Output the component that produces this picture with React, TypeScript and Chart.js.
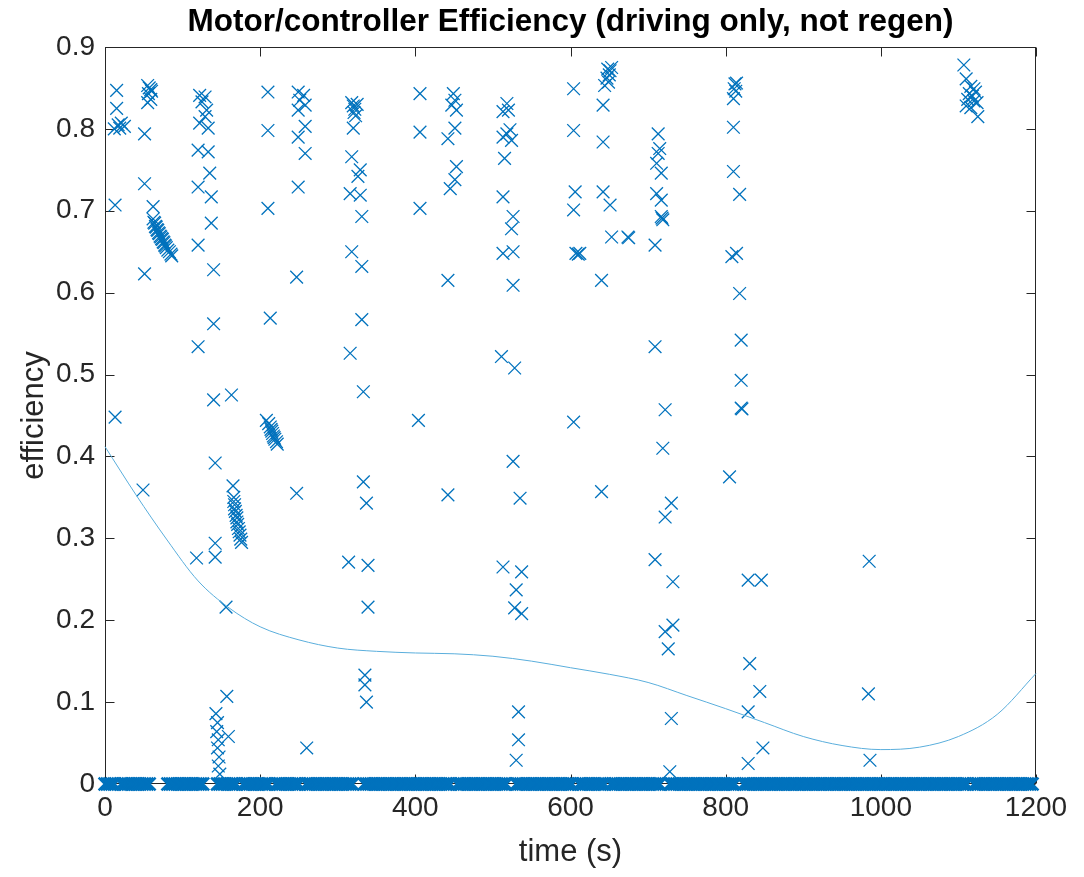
import { useEffect, useRef } from 'react';
import { Chart, registerables } from 'chart.js';

Chart.register(...registerables);

const chartTitle = 'Motor/controller Efficiency (driving only, not regen)';
const xAxisTitle = 'time (s)';
const yAxisTitle = 'efficiency';

const xTickValues = [0, 200, 400, 600, 800, 1000, 1200];
const xTickLabels = ['0', '200', '400', '600', '800', '1000', '1200'];
const yTickValues = [0, 0.1, 0.2, 0.3, 0.4, 0.5, 0.6, 0.7, 0.8, 0.9];
const yTickLabels = ['0', '0.1', '0.2', '0.3', '0.4', '0.5', '0.6', '0.7', '0.8', '0.9'];

// [time (s), efficiency] for samples with non-zero efficiency
const efficiencyPoints: [number, number][] = [
  [15, 0.847], [15, 0.825], [12, 0.8], [17, 0.805], [21, 0.807], [25, 0.803], [19, 0.801], [13, 0.707], [13, 0.448],
  [51, 0.794], [51, 0.733], [51, 0.623], [49, 0.359], [55, 0.853], [57, 0.85], [59, 0.848], [56, 0.843], [60, 0.846],
  [55, 0.832], [59, 0.836], [62, 0.705],
  [62, 0.69], [63, 0.686], [64, 0.685], [65, 0.681], [66, 0.68], [67, 0.677], [68, 0.676], [69, 0.673], [70, 0.672],
  [71, 0.669], [72, 0.668], [73, 0.666], [74, 0.665], [75, 0.662], [76, 0.661], [77, 0.658], [78, 0.657], [79, 0.655],
  [81, 0.652], [83, 0.65], [85, 0.647], [86, 0.645],
  [122, 0.841], [129, 0.839], [125, 0.833], [131, 0.823], [129, 0.815], [122, 0.807], [133, 0.801], [120, 0.774],
  [133, 0.772], [135, 0.746], [120, 0.729], [137, 0.717], [137, 0.685], [120, 0.658], [140, 0.628], [140, 0.562],
  [120, 0.534], [140, 0.469], [163, 0.475], [142, 0.392], [142, 0.294], [142, 0.277], [118, 0.276], [156, 0.216],
  [157, 0.107], [159, 0.058],
  [143, 0.086], [145, 0.075], [144, 0.064], [146, 0.054], [145, 0.044], [147, 0.033], [146, 0.022], [148, 0.012],
  [165, 0.364], [166, 0.35], [166, 0.345], [167, 0.341], [167, 0.336], [168, 0.333], [169, 0.328], [170, 0.325],
  [170, 0.32], [171, 0.317], [172, 0.312], [173, 0.308], [174, 0.304], [175, 0.299], [176, 0.295],
  [208, 0.444], [211, 0.44], [213, 0.436], [214, 0.433], [215, 0.431], [216, 0.428], [217, 0.425], [218, 0.423],
  [219, 0.421], [221, 0.418], [222, 0.415],
  [210, 0.845], [210, 0.798], [210, 0.703], [213, 0.569], [249, 0.845], [256, 0.841], [251, 0.835], [258, 0.829],
  [249, 0.823], [258, 0.803], [249, 0.79], [258, 0.77], [249, 0.729], [247, 0.619], [247, 0.355], [260, 0.044],
  [318, 0.832], [320, 0.828], [322, 0.824], [321, 0.82], [323, 0.816], [325, 0.83], [320, 0.801], [318, 0.766],
  [329, 0.75], [326, 0.742], [316, 0.721], [329, 0.719], [331, 0.693], [318, 0.65], [331, 0.632], [331, 0.567],
  [316, 0.526], [333, 0.479], [333, 0.369], [337, 0.343], [314, 0.271], [339, 0.267], [339, 0.216], [335, 0.133],
  [335, 0.121], [337, 0.1],
  [406, 0.843], [406, 0.796], [406, 0.703], [404, 0.444], [449, 0.843], [451, 0.835], [447, 0.829], [453, 0.823],
  [451, 0.801], [442, 0.788], [453, 0.754], [451, 0.738], [445, 0.727], [442, 0.615], [442, 0.353],
  [518, 0.831], [520, 0.823], [513, 0.821], [522, 0.799], [518, 0.794], [524, 0.786], [513, 0.79], [515, 0.764],
  [513, 0.717], [526, 0.693], [524, 0.678], [513, 0.648], [526, 0.65], [526, 0.609], [511, 0.522], [528, 0.508],
  [526, 0.394], [535, 0.349], [513, 0.265], [537, 0.259], [530, 0.237], [528, 0.215], [537, 0.208], [533, 0.088],
  [533, 0.054], [530, 0.029],
  [604, 0.849], [604, 0.798], [606, 0.723], [604, 0.701], [607, 0.648], [610, 0.647], [612, 0.648], [604, 0.442],
  [648, 0.873], [651, 0.871], [653, 0.875], [650, 0.866], [647, 0.862], [649, 0.857], [644, 0.853], [642, 0.829],
  [642, 0.784], [642, 0.723], [651, 0.707], [653, 0.668], [674, 0.668], [675, 0.667], [640, 0.615], [640, 0.357],
  [713, 0.794], [715, 0.776], [713, 0.77], [711, 0.758], [717, 0.746], [711, 0.721], [717, 0.713], [717, 0.693],
  [718, 0.691], [719, 0.689], [709, 0.658], [709, 0.534], [722, 0.457], [719, 0.41], [730, 0.343], [722, 0.326],
  [709, 0.274], [732, 0.247], [732, 0.194], [722, 0.186], [726, 0.165], [730, 0.08], [728, 0.015],
  [812, 0.855], [814, 0.856], [811, 0.849], [813, 0.846], [810, 0.837], [810, 0.802], [810, 0.748], [818, 0.72],
  [808, 0.644], [814, 0.648], [818, 0.599], [820, 0.542], [820, 0.493], [820, 0.459], [821, 0.458], [805, 0.375],
  [829, 0.249], [846, 0.249], [831, 0.147], [844, 0.113], [829, 0.088], [848, 0.044], [829, 0.025],
  [985, 0.272], [984, 0.11], [986, 0.029],
  [1107, 0.878], [1110, 0.861], [1116, 0.852], [1120, 0.849], [1122, 0.845], [1114, 0.843], [1118, 0.84],
  [1112, 0.836], [1120, 0.834], [1124, 0.832], [1110, 0.828], [1116, 0.826], [1125, 0.815],
];

// times (s) of samples where efficiency is 0
const zeroEfficiencyTimes = [
  0, 3, 6, 9, 12, 21, 24, 27, 30, 33, 36, 39, 42, 45, 48, 51, 54, 57,
  81, 84, 87, 90, 93, 96, 99, 102, 105, 108, 111, 114, 117, 120, 123, 126,
  145, 148, 151, 154, 157, 160, 163, 166, 169, 178, 181, 184, 187, 190, 193, 196, 199, 202, 205, 208, 211,
  220, 223, 226, 229, 232, 235, 238, 241, 244, 247, 250, 259, 262, 265, 268, 271, 274, 277, 280, 283, 286,
  289, 292, 295, 298, 301, 304, 307, 310, 313, 316, 319,
  334, 337, 340, 343, 346, 349, 352, 355, 358, 361, 364, 367, 370, 373, 376, 379, 382, 385, 388, 391, 394,
  397, 400, 403, 406, 409, 412, 415, 418, 421, 424, 427, 430, 433, 436, 439, 442, 445, 454, 457, 460, 463,
  466, 469, 472, 475, 478, 481, 484, 487, 490, 493, 496, 499, 502, 505, 508, 511, 514, 517,
  530, 533, 536, 539, 542, 545, 548, 551, 554, 557, 560, 563, 566, 569, 572, 575, 578, 581, 584, 587, 590,
  593, 596, 599, 602, 611, 614, 617, 620, 623, 626, 629, 632, 635, 638, 641, 644, 652, 655, 658, 661, 664,
  667, 670, 673, 676, 679, 682, 685, 688, 691, 694, 697, 700, 703, 706, 709, 712, 715,
  728, 731, 734, 737, 740, 743, 746, 749, 752, 755, 758, 761, 764, 767, 770, 773, 776, 779, 782, 785, 788,
  791, 794, 797, 800, 803, 806, 809, 812,
  823, 826, 829, 832, 835, 838, 841, 844, 847, 850, 853, 856, 859, 862, 865, 868, 871, 874, 877, 880, 883,
  886, 889, 892, 895, 898, 901, 904, 907, 910, 913, 916, 919, 922, 925, 928, 931, 934, 937, 940, 943, 946,
  949, 952, 955, 958, 961, 964, 967, 970, 973, 976, 979, 982, 985, 988, 991, 994, 997, 1000, 1003, 1006,
  1009, 1012, 1015, 1018, 1021, 1024, 1027, 1030, 1033, 1036, 1039, 1042, 1045, 1048, 1051, 1054, 1057,
  1060, 1063, 1066, 1069, 1072, 1075, 1078, 1081, 1084, 1087, 1090, 1093, 1096, 1099, 1102, 1105, 1108, 1111,
  1120, 1123, 1126, 1129, 1132, 1135, 1138, 1141, 1144, 1147, 1150, 1153, 1156, 1159, 1162, 1165, 1168,
  1171, 1174, 1177, 1180, 1183, 1186, 1189, 1192, 1195,
];

// fitted trend curve
const fitTimes = [0, 40, 80, 120, 160, 200, 250, 300, 350, 400, 450, 500, 550, 600, 650, 700, 750, 800, 850, 900, 950, 1000, 1050, 1100, 1150, 1200];
const fitValues = [0.412, 0.353, 0.298, 0.248, 0.215, 0.192, 0.176, 0.166, 0.162, 0.16, 0.159, 0.156, 0.15, 0.142, 0.134, 0.124, 0.108, 0.092, 0.075, 0.058, 0.047, 0.042, 0.045, 0.058, 0.085, 0.135];

const FONT = "'Liberation Sans', Arial, Helvetica, sans-serif";
const AXIS_COLOR = '#262626';
const MARKER_COLOR = '#0072BD';
const TICK_LEN = 9;

const boxPlugin = {
  id: 'matlabBox',
  beforeDatasetsDraw(chart: any) {
    const { ctx, chartArea: a, scales } = chart;
    const xs = scales.x;
    const ys = scales.y;
    const L = Math.round(a.left) + 0.5;
    const R = Math.round(a.right) - 0.5;
    const T = Math.round(a.top) + 0.5;
    const B = Math.round(a.bottom) - 0.5;
    ctx.save();
    ctx.strokeStyle = AXIS_COLOR;
    ctx.lineWidth = 1;
    ctx.strokeRect(L, T, R - L, B - T);
    ctx.beginPath();
    xTickValues.forEach((v) => {
      const px = Math.round(xs.getPixelForValue(v)) + 0.5;
      ctx.moveTo(px, B);
      ctx.lineTo(px, B - TICK_LEN);
      ctx.moveTo(px, T);
      ctx.lineTo(px, T + TICK_LEN);
    });
    yTickValues.forEach((v) => {
      const py = Math.round(ys.getPixelForValue(v)) + 0.5;
      ctx.moveTo(L, py);
      ctx.lineTo(L + TICK_LEN, py);
      ctx.moveTo(R, py);
      ctx.lineTo(R - TICK_LEN, py);
    });
    ctx.stroke();
    ctx.restore();
  },
  afterDraw(chart: any) {
    const { ctx, chartArea: a } = chart;
    ctx.save();
    ctx.fillStyle = '#000000';
    ctx.font = `bold 31.5px ${FONT}`;
    ctx.textAlign = 'center';
    ctx.textBaseline = 'middle';
    ctx.fillText(chartTitle, (a.left + a.right) / 2, 22);
    ctx.restore();
  },
};

export default function App() {
  const canvasRef = useRef<HTMLCanvasElement | null>(null);

  useEffect(() => {
    const canvas = canvasRef.current;
    if (!canvas) return;
    const chart = new Chart(canvas, {
      type: 'scatter',
      data: {
        datasets: [
          {
            label: 'fit',
            data: fitTimes.map((t, i) => ({ x: t, y: fitValues[i] })),
            showLine: true,
            borderColor: '#5AAEDC',
            borderWidth: 1,
            pointRadius: 0,
            cubicInterpolationMode: 'monotone',
            clip: false,
          } as any,
          {
            label: 'zero',
            data: zeroEfficiencyTimes.map((t) => ({ x: t, y: 0 })),
            pointStyle: 'crossRot',
            pointRadius: 9,
            pointBorderWidth: 2.5,
            borderColor: MARKER_COLOR,
            backgroundColor: MARKER_COLOR,
            showLine: false,
            clip: false,
          } as any,
          {
            label: 'efficiency',
            data: efficiencyPoints.map(([t, e]) => ({ x: t, y: e })),
            pointStyle: 'crossRot',
            pointRadius: 9,
            pointBorderWidth: 1.3,
            borderColor: MARKER_COLOR,
            backgroundColor: MARKER_COLOR,
            showLine: false,
            clip: false,
          } as any,
        ],
      },
      options: {
        animation: false,
        responsive: false,
        maintainAspectRatio: false,
        events: [],
        layout: { padding: { left: 0, right: 48, top: 47, bottom: 0 } },
        plugins: {
          legend: { display: false },
          tooltip: { enabled: false },
          title: { display: false },
        },
        scales: {
          x: {
            type: 'linear',
            min: 0,
            max: 1200,
            grid: { display: false, drawTicks: false },
            border: { display: false },
            afterBuildTicks: (scale: any) => {
              scale.ticks = xTickValues.map((v) => ({ value: v }));
            },
            afterFit: (scale: any) => {
              scale.height = 93;
            },
            ticks: {
              color: AXIS_COLOR,
              font: { family: FONT, size: 28 },
              padding: 7,
              maxRotation: 0,
              autoSkip: false,
              callback: (_v: any, i: number) => xTickLabels[i],
            },
            title: {
              display: true,
              text: xAxisTitle,
              color: AXIS_COLOR,
              font: { family: FONT, size: 31 },
              padding: { top: 0, bottom: 6 },
            },
          },
          y: {
            type: 'linear',
            min: 0,
            max: 0.9,
            grid: { display: false, drawTicks: false },
            border: { display: false },
            afterBuildTicks: (scale: any) => {
              scale.ticks = yTickValues.map((v) => ({ value: v }));
            },
            afterFit: (scale: any) => {
              scale.width = 105;
            },
            ticks: {
              color: AXIS_COLOR,
              font: { family: FONT, size: 28 },
              padding: 10,
              autoSkip: false,
              callback: (_v: any, i: number) => yTickLabels[i],
            },
            title: {
              display: true,
              text: yAxisTitle,
              color: AXIS_COLOR,
              font: { family: FONT, size: 31 },
              padding: { top: 16, bottom: 0 },
            },
          },
        },
      } as any,
      plugins: [boxPlugin],
    });
    return () => chart.destroy();
  }, []);

  return (
    <div style={{ position: 'fixed', left: 0, top: 0, width: 1084, height: 877, background: '#ffffff' }}>
      <canvas ref={canvasRef} width={1084} height={877} style={{ display: 'block' }} />
    </div>
  );
}
